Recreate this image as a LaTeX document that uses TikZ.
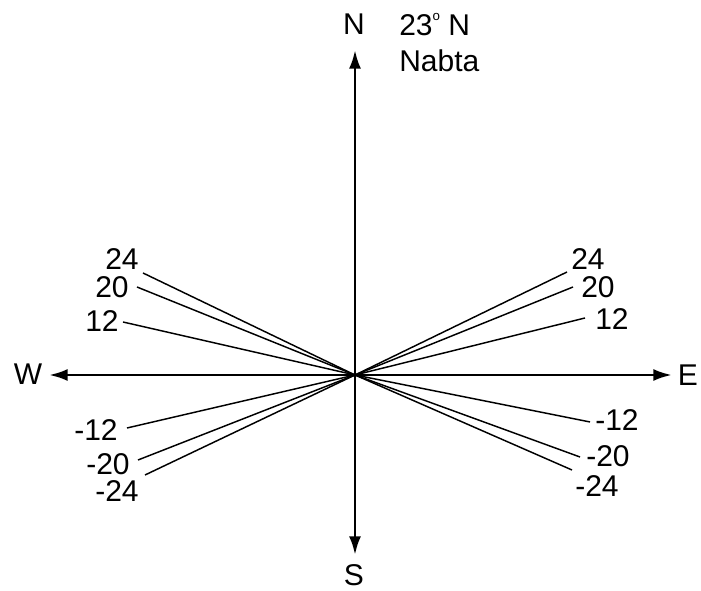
\documentclass[tikz,border=0pt]{standalone}
\usepackage{fontspec}
\setmainfont{Liberation Sans}
\usetikzlibrary{arrows.meta,positioning}

\begin{document}
\begin{tikzpicture}[x=0.75pt,y=-0.75pt,
  lbl/.style={font=\fontsize{22.5}{26}\selectfont,inner sep=0pt},
  axis/.style={line width=2.1pt,-{Latex[length=14pt,width=9pt]}},
  ray/.style={line width=1.1pt}]
\useasboundingbox (0,0) rectangle (701,591);
% centre and axis ends
\coordinate (o) at (355,375);
\coordinate (n) at (355,50);
\coordinate (s) at (355,555);
\coordinate (w) at (49,375);
\coordinate (e) at (672,375);
\node[lbl] (nlab) at (354,24) {N};
\node[lbl] (slab) at (354,575) {S};
\node[lbl] (wlab) at (28,374) {W};
\node[lbl] (elab) at (688,375) {E};
\node[lbl,anchor=west,align=left] (site) at (399,43)
  {23\raisebox{0.5em}{\fontsize{10}{10}\selectfont o} N\\[1pt]Nabta};
\draw[axis] (o) -- (n);
\draw[axis] (o) -- (s);
\draw[axis] (o) -- (w);
\draw[axis] (o) -- (e);

% left rays
\coordinate (lp24) at (143,273);
\coordinate (lp20) at (137,287);
\coordinate (lp12) at (123,322);
\coordinate (lm12) at (127,428);
\coordinate (lm20) at (138,460);
\coordinate (lm24) at (145,475);
\node[lbl] (tlp24) at (122,259) {24};
\node[lbl] (tlp20) at (112,287) {20};
\node[lbl] (tlp12) at (102,321) {12};
\node[lbl] (tlm12) at (96,430) {-12};
\node[lbl] (tlm20) at (108,464) {-20};
\node[lbl] (tlm24) at (117,491) {-24};
\draw[ray] (o) -- (lp24);
\draw[ray] (o) -- (lp20);
\draw[ray] (o) -- (lp12);
\draw[ray] (o) -- (lm12);
\draw[ray] (o) -- (lm20);
\draw[ray] (o) -- (lm24);

% right rays
\coordinate (rp24) at (567,272);
\coordinate (rp20) at (573,287);
\coordinate (rp12) at (585,318);
\coordinate (rm12) at (590,422);
\coordinate (rm20) at (580,457);
\coordinate (rm24) at (572,470);
\node[lbl] (trp24) at (588,259) {24};
\node[lbl] (trp20) at (598,287) {20};
\node[lbl] (trp12) at (612,319) {12};
\node[lbl] (trm12) at (617,420) {-12};
\node[lbl] (trm20) at (608,456) {-20};
\node[lbl] (trm24) at (597,486) {-24};
\draw[ray] (o) -- (rp24);
\draw[ray] (o) -- (rp20);
\draw[ray] (o) -- (rp12);
\draw[ray] (o) -- (rm12);
\draw[ray] (o) -- (rm20);
\draw[ray] (o) -- (rm24);
\end{tikzpicture}
\end{document}
